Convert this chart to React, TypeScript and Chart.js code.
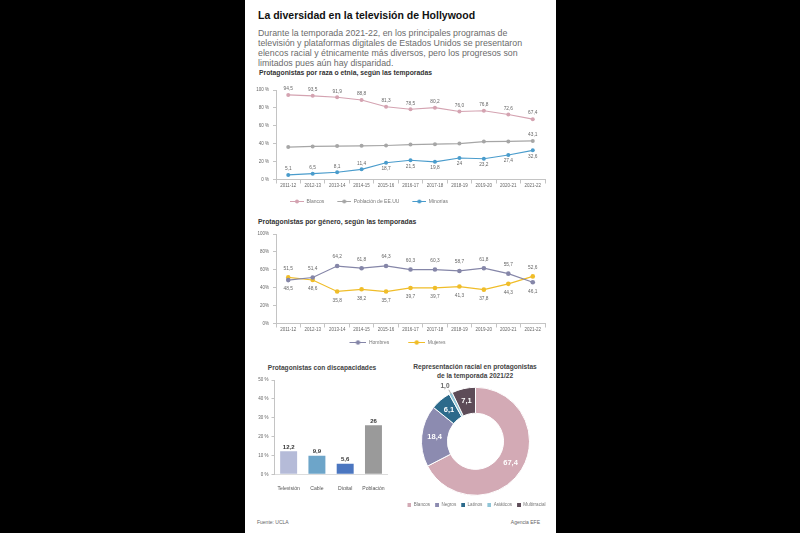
import React, { useEffect, useRef } from 'react';
import { Chart, registerables } from 'chart.js';

Chart.register(...registerables);

const FONT = "'Liberation Sans', Arial, Helvetica, sans-serif";
Chart.defaults.font.family = FONT;

// ---------- data ----------
const temporadas = ['2011-12', '2012-13', '2013-14', '2014-15', '2015-16', '2016-17', '2017-18', '2018-19', '2019-20', '2020-21', '2021-22'];
const blancos = [94.5, 93.5, 91.9, 88.8, 81.3, 78.5, 80.2, 76.0, 76.8, 72.6, 67.4];
const poblacionEEUU = [36.2, 37.0, 37.3, 37.6, 38.0, 39.0, 39.5, 40.1, 42.4, 42.5, 43.1];
const minorias = [5.1, 6.5, 8.1, 11.4, 18.7, 21.5, 19.8, 24, 23.2, 27.4, 32.6];

const hombres = [48.5, 51.4, 64.2, 61.8, 64.3, 60.3, 60.3, 58.7, 61.8, 55.7, 46.1];
const mujeres = [51.5, 48.6, 35.8, 38.2, 35.7, 39.7, 39.7, 41.3, 37.8, 44.3, 52.6];

const medios = ['Televisión', 'Cable', 'Digital', 'Población'];
const discapacidad = [12.2, 9.9, 5.6, 26];

const grupos = ['Blancos', 'Negros', 'Latinos', 'Asiáticos', 'Multirracial'];
const representacion = [67.4, 18.4, 6.1, 1.0, 7.1];

const minoriasLabelsBelowFrom = 4;

// ---------- colours ----------
const cBlancos = '#d4a3b1';
const cPoblacion = '#a6a6a6';
const cMinorias = '#4a9ccc';
const cHombres = '#8586a8';
const cMujeres = '#f0bd29';
const barColors = ['#b5bbd8', '#6da5c9', '#4b76c0', '#9a9a9a'];
const donutColors = ['#d3aab5', '#8c8bb0', '#2c6a8b', '#90c5d7', '#5d4c58'];

const comma = (v: number) => String(v).replace('.', ',');
const comma1 = (v: number) => v.toFixed(1).replace('.', ',');

function lineMarker(color: string, lineW: number, gap: number, r: number): HTMLCanvasElement {
  const c = document.createElement('canvas');
  const h = 7;
  c.width = lineW + gap;
  c.height = h;
  const ctx = c.getContext('2d')!;
  ctx.strokeStyle = color;
  ctx.lineWidth = 1;
  ctx.beginPath();
  ctx.moveTo(gap, h / 2);
  ctx.lineTo(gap + lineW, h / 2);
  ctx.stroke();
  ctx.fillStyle = color;
  ctx.beginPath();
  ctx.arc(gap + lineW / 2, h / 2, r, 0, Math.PI * 2);
  ctx.fill();
  return c;
}

function squareMarker(color: string, size: number, gap: number): HTMLCanvasElement {
  const c = document.createElement('canvas');
  c.width = size + gap;
  c.height = size;
  const ctx = c.getContext('2d')!;
  ctx.fillStyle = color;
  ctx.fillRect(gap, 0, size, size);
  return c;
}

type Where = 'above' | 'below' | null;
type Rule = { ds: number; where: (i: number) => Where; fmt: (v: number) => string };

function pointLabels(id: string, rules: Rule[], offset: number, size: number, color: string) {
  return {
    id,
    afterDatasetsDraw(chart: any) {
      const ctx = chart.ctx;
      ctx.save();
      ctx.font = `${size}px ${FONT}`;
      ctx.fillStyle = color;
      ctx.textAlign = 'center';
      ctx.textBaseline = 'middle';
      rules.forEach((r) => {
        const meta = chart.getDatasetMeta(r.ds);
        const data = chart.data.datasets[r.ds].data as number[];
        meta.data.forEach((el: any, i: number) => {
          const w = r.where(i);
          if (!w) return;
          ctx.fillText(r.fmt(data[i]), el.x, w === 'above' ? el.y - offset : el.y + offset);
        });
      });
      ctx.restore();
    },
  };
}

const barLabels = {
  id: 'barLabels',
  afterDatasetsDraw(chart: any) {
    const ctx = chart.ctx;
    ctx.save();
    ctx.font = `bold 6px ${FONT}`;
    ctx.fillStyle = '#333';
    ctx.textAlign = 'center';
    ctx.textBaseline = 'bottom';
    const meta = chart.getDatasetMeta(0);
    const data = chart.data.datasets[0].data as number[];
    meta.data.forEach((el: any, i: number) => {
      ctx.fillText(comma(data[i]), el.x, el.y - 1);
    });
    ctx.restore();
  },
};

const donutLabels = {
  id: 'donutLabels',
  afterDatasetsDraw(chart: any) {
    const ctx = chart.ctx;
    ctx.save();
    ctx.textAlign = 'center';
    ctx.textBaseline = 'middle';
    const meta = chart.getDatasetMeta(0);
    const data = chart.data.datasets[0].data as number[];
    meta.data.forEach((arc: any, i: number) => {
      const v = data[i];
      const txt = comma1(v);
      if (v < 3) {
        const p = arc.getProps(['x', 'y', 'startAngle', 'endAngle', 'outerRadius']);
        const mid = (p.startAngle + p.endAngle) / 2;
        const cs = Math.cos(mid);
        const sn = Math.sin(mid);
        ctx.strokeStyle = '#8c8c8c';
        ctx.lineWidth = 0.7;
        ctx.beginPath();
        ctx.moveTo(p.x + cs * (p.outerRadius - 1), p.y + sn * (p.outerRadius - 1));
        ctx.lineTo(p.x + cs * (p.outerRadius + 4), p.y + sn * (p.outerRadius + 4));
        ctx.stroke();
        ctx.font = `bold 6.5px ${FONT}`;
        ctx.fillStyle = '#666';
        ctx.fillText(txt, p.x + cs * (p.outerRadius + 8) - 2, p.y + sn * (p.outerRadius + 8));
      } else {
        const pos = arc.tooltipPosition(false);
        ctx.font = `bold 7.5px ${FONT}`;
        ctx.fillStyle = '#fff';
        ctx.fillText(txt, pos.x, pos.y);
      }
    });
    ctx.restore();
  },
};

const axisColor = '#c4c4c4';
const tickFont = { size: 4.5 };

function lineScales(yFmt: (v: any) => string, xHeight: number, yWidth: number) {
  return {
    x: {
      offset: true,
      grid: { offset: true, drawOnChartArea: false, tickLength: 4, color: axisColor },
      border: { color: axisColor },
      ticks: { font: tickFont, color: '#666', padding: 0, maxRotation: 0, minRotation: 0, autoSkip: false },
      afterFit: (s: any) => { s.height = xHeight; },
    },
    y: {
      min: 0,
      max: 100,
      ticks: { stepSize: 20, font: tickFont, color: '#666', padding: 4, callback: yFmt },
      grid: { drawOnChartArea: false, tickLength: 3, color: axisColor },
      border: { color: axisColor },
      afterFit: (s: any) => { s.width = yWidth; },
    },
  };
}

function lineDs(label: string, data: number[], color: string, r: number) {
  return {
    label,
    data,
    borderColor: color,
    backgroundColor: color,
    pointBackgroundColor: color,
    pointBorderColor: color,
    pointRadius: r,
    pointBorderWidth: 0,
    borderWidth: 1.2,
    tension: 0,
  };
}

function lineLegend(markers: HTMLCanvasElement[], pad: number, size: number) {
  return {
    position: 'bottom',
    labels: {
      usePointStyle: true,
      pointStyleWidth: markers[0].width,
      padding: pad,
      font: { size },
      color: '#777',
      generateLabels: (chart: any) =>
        chart.data.datasets.map((ds: any, i: number) => ({
          text: ds.label,
          pointStyle: markers[i],
          fillStyle: ds.borderColor,
          strokeStyle: ds.borderColor,
          lineWidth: 1,
          hidden: false,
          datasetIndex: i,
          fontColor: '#777',
        })),
    },
  };
}

function configRaza() {
  const last = temporadas.length - 1;
  const markers = [cBlancos, cPoblacion, cMinorias].map((c) => lineMarker(c, 14, 8, 2));
  return {
    type: 'line',
    data: {
      labels: temporadas,
      datasets: [
        lineDs('Blancos', blancos, cBlancos, 2),
        lineDs('Población de EE.UU', poblacionEEUU, cPoblacion, 2),
        lineDs('Minorías', minorias, cMinorias, 2),
      ],
    },
    options: {
      responsive: false,
      animation: false,
      devicePixelRatio: 1,
      layout: { padding: { top: 10, right: 5, left: 0, bottom: 0 } },
      plugins: { legend: lineLegend(markers, 5, 5), tooltip: { enabled: false } },
      scales: lineScales((v: any) => v + ' %', 14.5, 91),
    },
    plugins: [
      pointLabels('razaLabels', [
        { ds: 0, where: () => 'above', fmt: comma1 },
        { ds: 1, where: (i) => (i === last ? 'above' : null), fmt: comma },
        { ds: 2, where: (i) => (i < minoriasLabelsBelowFrom ? 'above' : 'below'), fmt: comma },
      ], 6, 4.8, '#666'),
    ],
  };
}

function configGenero() {
  const markers = [cHombres, cMujeres].map((c) => lineMarker(c, 17, 14, 2.2));
  return {
    type: 'line',
    data: {
      labels: temporadas,
      datasets: [lineDs('Hombres', hombres, cHombres, 2.3), lineDs('Mujeres', mujeres, cMujeres, 2.3)],
    },
    options: {
      responsive: false,
      animation: false,
      devicePixelRatio: 1,
      layout: { padding: { top: 10, right: 5, left: 0, bottom: 0 } },
      plugins: { legend: lineLegend(markers, 5, 5), tooltip: { enabled: false } },
      scales: lineScales((v: any) => v + '%', 11.5, 40),
    },
    plugins: [
      pointLabels('generoLabels', [
        { ds: 0, where: (i) => (hombres[i] >= mujeres[i] ? 'above' : 'below'), fmt: comma },
        { ds: 1, where: (i) => (mujeres[i] > hombres[i] ? 'above' : 'below'), fmt: comma },
      ], 9, 4.8, '#666'),
    ],
  };
}

function configBarras() {
  return {
    type: 'bar',
    data: {
      labels: medios,
      datasets: [{ data: discapacidad, backgroundColor: barColors, categoryPercentage: 1, barPercentage: 0.6, borderWidth: 0 }],
    },
    options: {
      responsive: false,
      animation: false,
      devicePixelRatio: 1,
      layout: { padding: { top: 10, right: 7.4, left: 0, bottom: 0 } },
      plugins: { legend: { display: false }, tooltip: { enabled: false } },
      scales: {
        x: {
          grid: { display: false },
          border: { display: true, color: '#dcdcdc' },
          ticks: { font: { size: 5.1 }, color: '#555', padding: 3, maxRotation: 0, minRotation: 0, autoSkip: false },
          afterFit: (s: any) => { s.height = 15.7; },
        },
        y: {
          min: 0,
          max: 50,
          ticks: { stepSize: 10, font: tickFont, color: '#666', padding: 3, callback: (v: any) => v + ' %' },
          grid: { drawOnChartArea: false, tickLength: 3, color: axisColor },
          border: { color: axisColor },
          afterFit: (s: any) => { s.width = 24.5; },
        },
      },
    },
    plugins: [barLabels],
  };
}

function configDonut() {
  const markers = donutColors.map((c) => squareMarker(c, 4, 2));
  return {
    type: 'doughnut',
    data: {
      labels: grupos,
      datasets: [{ data: representacion, backgroundColor: donutColors, borderColor: '#fff', borderWidth: 1 }],
    },
    options: {
      responsive: false,
      animation: false,
      devicePixelRatio: 1,
      cutout: '52%',
      radius: 54,
      layout: { padding: { top: 0.2, left: 0, right: 0, bottom: 0 } },
      plugins: {
        tooltip: { enabled: false },
        legend: {
          position: 'bottom',
          labels: {
            usePointStyle: true,
            pointStyleWidth: 6,
            padding: 3,
            font: { size: 4.6 },
            color: '#777',
            generateLabels: (chart: any) =>
              chart.data.labels.map((t: string, i: number) => ({
                text: t,
                pointStyle: markers[i],
                fillStyle: donutColors[i],
                strokeStyle: donutColors[i],
                lineWidth: 1,
                hidden: false,
                index: i,
                fontColor: '#777',
              })),
          },
        },
      },
    },
    plugins: [donutLabels],
  };
}

function ChartBox({ x, y, w, h, make }: { x: number; y: number; w: number; h: number; make: () => any }) {
  const ref = useRef<HTMLCanvasElement>(null);
  useEffect(() => {
    const chart = new Chart(ref.current as HTMLCanvasElement, make());
    return () => chart.destroy();
  }, []);
  return (
    <canvas
      ref={ref}
      width={w}
      height={h}
      style={{ position: 'absolute', left: x, top: y, width: w, height: h }}
    />
  );
}

function T({ x, y, size, bold, color, align, children }: { x: number; y: number; size: number; bold?: boolean; color: string; align?: 'left' | 'center' | 'right'; children: React.ReactNode }) {
  const tx = align === 'center' ? 'translateX(-50%)' : align === 'right' ? 'translateX(-100%)' : 'none';
  return (
    <div
      style={{
        position: 'absolute',
        left: x,
        top: y - size / 2,
        fontSize: size,
        lineHeight: `${size}px`,
        fontWeight: bold ? 'bold' : 'normal',
        color,
        whiteSpace: 'nowrap',
        transform: tx,
        fontFamily: FONT,
      }}
    >
      {children}
    </div>
  );
}

export default function App() {
  return (
    <div style={{ position: 'fixed', left: 0, top: 0, width: 800, height: 533, background: '#000', overflow: 'hidden' }}>
      <div style={{ position: 'absolute', left: 245, top: 0, width: 311, height: 533, background: '#fff' }} />
      <T x={258} y={15.3} size={10.5} bold color="#111">La diversidad en la televisión de Hollywood</T>
      <T x={258} y={33} size={8.8} color="#6b6b6b">Durante la temporada 2021-22, en los principales programas de</T>
      <T x={258} y={43} size={8.8} color="#6b6b6b">televisión y plataformas digitales de Estados Unidos se presentaron</T>
      <T x={258} y={53} size={8.8} color="#6b6b6b">elencos racial y étnicamente más diversos, pero los progresos son</T>
      <T x={258} y={63} size={8.8} color="#6b6b6b">limitados pues aún hay disparidad.</T>

      <T x={259} y={73} size={6.8} bold color="#333">Protagonistas por raza o etnia, según las temporadas</T>
      <ChartBox x={185} y={80} w={365} h={134} make={configRaza} />

      <T x={258} y={222.5} size={6.8} bold color="#333">Protagonistas por género, según las temporadas</T>
      <ChartBox x={236} y={224} w={314} h={131} make={configGenero} />

      <T x={322} y={368} size={6.6} bold color="#444" align="center">Protagonistas con discapacidades</T>
      <ChartBox x={250} y={370} w={145} h={120} make={configBarras} />

      <T x={475} y={367.3} size={6.6} bold color="#444" align="center">Representación racial en protagonistas</T>
      <T x={475} y={375.9} size={6.6} bold color="#444" align="center">de la temporada 2021/22</T>
      <ChartBox x={398} y={383} w={155} h={134} make={configDonut} />

      <T x={257} y={522} size={5} color="#666">Fuente: UCLA</T>
      <T x={540} y={522} size={5} color="#666" align="right">Agencia EFE</T>
    </div>
  );
}
